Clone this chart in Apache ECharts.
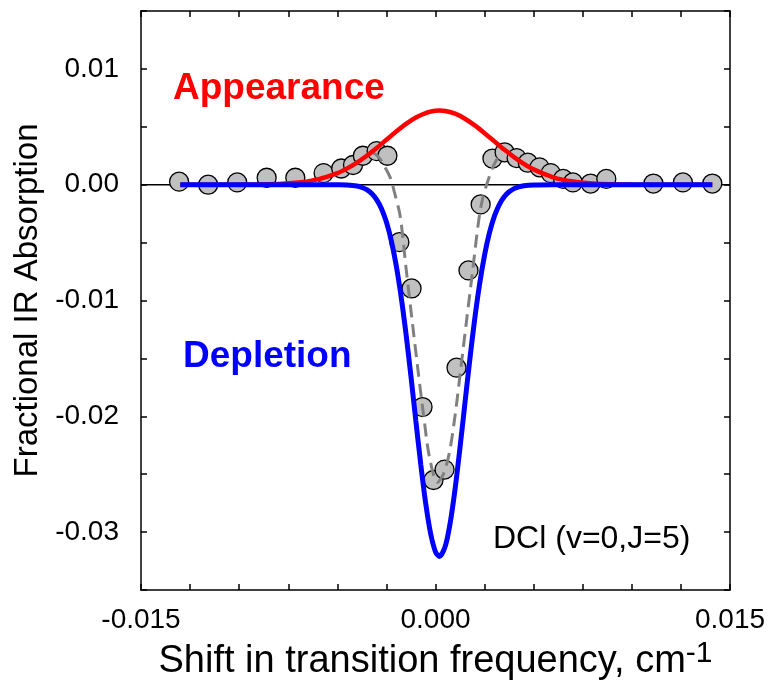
<!DOCTYPE html>
<html>
<head>
<meta charset="utf-8">
<script src="https://cdn.jsdelivr.net/npm/echarts@6/dist/echarts.min.js"></script>
<style>
  html, body { margin: 0; padding: 0; background: #fff; }
  #main { width: 771px; height: 688px; }
</style>
</head>
<body>
<div id="main"></div>
<script>
// measured points (grey circles)
const pointX = [-0.01306, -0.01158, -0.0101, -0.0086, -0.00714, -0.0057, -0.0048, -0.0042, -0.0037, -0.0030, -0.00245,
  -0.00184, -0.00122, -0.00066, -0.0001, 0.00046, 0.00107, 0.00168, 0.0023,
  0.0029, 0.00352, 0.00413, 0.0047, 0.0053, 0.00587, 0.0065, 0.0070, 0.0079, 0.0087, 0.0111, 0.0126, 0.0141];
const pointY = [0.00026, 0.0000, 0.0002, 0.0006, 0.0006, 0.0010, 0.0014, 0.0017, 0.0025, 0.0029, 0.0025,
  -0.00496, -0.00896, -0.0192, -0.0255, -0.0246, -0.0158, -0.0074, -0.0017,
  0.00226, 0.0028, 0.0023, 0.0019, 0.0015, 0.0010, 0.0005, 0.0002, 0.0001, 0.0005, 0.0001, 0.0002, 0.0001];

// dashed grey fit through the points
const dashX = [-0.0032, -0.0029, -0.0026, -0.0023, -0.0021, -0.0018, -0.0015, -0.0012, -0.0009, -0.0006, -0.0003, 0.0001,
  0.0004, 0.0007, 0.0010, 0.0013, 0.0016, 0.0019, 0.0022, 0.0024, 0.0027, 0.0030, 0.0033];
const dashY = [0.0028, 0.0024, 0.0016, 0.0006, -0.0006, -0.0027, -0.0072, -0.0116, -0.0159, -0.0200, -0.0236, -0.0257,
  -0.0250, -0.0232, -0.0199, -0.0157, -0.0115, -0.0073, -0.0031, -0.0012, 0.0005, 0.0018, 0.0027];

// red "Appearance" curve
const redX = [-0.013, -0.010, -0.008, -0.007, -0.006, -0.005, -0.0045, -0.004, -0.0035, -0.003, -0.0025, -0.002, -0.0015,
  -0.001, -0.0005, 0, 0.0002, 0.0005, 0.001, 0.0015, 0.002, 0.0025, 0.003, 0.0035, 0.004, 0.0045, 0.005, 0.006, 0.007,
  0.008, 0.009, 0.010, 0.0141];
const redY = [0, 0.000005, 0.000064, 0.000183, 0.000458, 0.0010, 0.00141, 0.00191, 0.0025, 0.00317, 0.00388, 0.00459, 0.00525,
  0.0058, 0.00619, 0.00638, 0.0064, 0.00636, 0.00613, 0.0057, 0.00512, 0.00445, 0.00374, 0.00303, 0.00238, 0.0018, 0.00132, 0.00064, 0.00027,
  0.0001, 0.00003, 0.00001, 0];

// blue "Depletion" curve
const blueX = [-0.013, -0.006, -0.005, -0.0045, -0.004, -0.00375, -0.0035, -0.00325, -0.003, -0.00275, -0.0025, -0.00225,
  -0.002, -0.00175, -0.0015, -0.00125, -0.001, -0.00075, -0.0005, -0.00025, 0, 0.0002, 0.0005, 0.00075, 0.001, 0.00125,
  0.0015, 0.00175, 0.002, 0.00225, 0.0025, 0.00275, 0.003, 0.00325, 0.0035, 0.00375, 0.004, 0.00425, 0.0045, 0.005, 0.006, 0.0141];
const blueY = [0, 0, -0.00001, -0.00003, -0.00012, -0.00024, -0.00043, -0.00076, -0.00128, -0.00207, -0.00323, -0.00485,
  -0.00699, -0.00969, -0.01292, -0.01656, -0.0204, -0.02416, -0.02751, -0.03011, -0.0317, -0.0321, -0.0312, -0.02918, -0.02624, -0.02268,
  -0.01885, -0.01506, -0.01157, -0.00855, -0.00607, -0.00414, -0.00272, -0.00171, -0.00104, -0.00061, -0.00034, -0.00018, -0.00009, -0.00002, 0, 0];

const xLabelsShown = [-0.015, 0, 0.015];
const yLabelsShown = [0.01, 0, -0.01, -0.02, -0.03];

const zip = (xs, ys) => xs.map((x, i) => [x, ys[i]]);
const near = (list, v) => list.some(t => Math.abs(t - v) < 1e-9);

const font = "'Liberation Sans', Arial, sans-serif";
const frame = { show: true, onZero: false, lineStyle: { color: '#000', width: 1.5 } };
const tick = { show: true, inside: true, length: 6, lineStyle: { color: '#000', width: 1.5 } };

const chart = echarts.init(document.getElementById('main'));
const option = {
  animation: false,
  backgroundColor: '#fff',
  grid: { left: 141, top: 11, right: 41, bottom: 98 },
  xAxis: [
    {
      type: 'value', min: -0.015, max: 0.015, interval: 0.0025, position: 'bottom',
      axisLine: frame, axisTick: tick, splitLine: { show: false },
      axisLabel: {
        margin: 16, color: '#000', fontSize: 28, fontFamily: font, showMinLabel: true, showMaxLabel: true,
        formatter: v => near(xLabelsShown, v) ? v.toFixed(3) : ''
      },
      name: '{t|Shift in transition frequency, cm}{s|-1}', nameLocation: 'middle', nameGap: 44,
      nameTextStyle: {
        rich: {
          t: { fontSize: 38, fontFamily: font, color: '#000' },
          s: { fontSize: 30, fontFamily: font, color: '#000', verticalAlign: 'top', padding: [0, 0, 16, 0] }
        }
      }
    },
    {
      type: 'value', min: -0.015, max: 0.015, interval: 0.0025, position: 'top',
      axisLine: frame, axisTick: tick, axisLabel: { show: false }, splitLine: { show: false }
    }
  ],
  yAxis: [
    {
      type: 'value', min: -0.035, max: 0.015, interval: 0.005, position: 'left',
      axisLine: frame, axisTick: tick, splitLine: { show: false },
      axisLabel: {
        margin: 22, color: '#000', fontSize: 28, fontFamily: font,
        formatter: v => near(yLabelsShown, v) ? v.toFixed(2) : ''
      },
      name: 'Fractional IR Absorption', nameLocation: 'middle', nameRotate: 90, nameGap: 96,
      nameTextStyle: { fontSize: 33, fontFamily: font, color: '#000' }
    },
    {
      type: 'value', min: -0.035, max: 0.015, interval: 0.005, position: 'right',
      axisLine: frame, axisTick: tick, axisLabel: { show: false }, splitLine: { show: false }
    }
  ],
  series: [
    {
      name: 'zero', type: 'line', symbol: 'none', z: 1,
      data: [[-0.015, 0], [0.015, 0]],
      lineStyle: { color: '#000', width: 1.5 }
    },
    {
      name: 'data', type: 'scatter', z: 2, symbolSize: 19,
      data: zip(pointX, pointY),
      itemStyle: { color: '#c0c0c0', borderColor: '#000', borderWidth: 1.3, opacity: 1 }
    },
    {
      name: 'fit', type: 'line', symbol: 'none', smooth: 0.3, z: 3,
      data: zip(dashX, dashY),
      lineStyle: { color: '#808080', width: 3, type: [13, 7] }
    },
    {
      name: 'Appearance', type: 'line', symbol: 'none', smooth: 0.3, z: 4,
      data: zip(redX, redY),
      lineStyle: { color: '#ff0000', width: 4.5 }
    },
    {
      name: 'Depletion', type: 'line', symbol: 'none', smooth: 0.3, z: 5,
      data: zip(blueX, blueY),
      lineStyle: { color: '#0000ff', width: 5 }
    }
  ],
  graphic: [
    { type: 'text', left: 173, top: 70, z: 10,
      style: { text: 'Appearance', fill: '#ff0000', font: 'bold 37px ' + font } },
    { type: 'text', left: 183, top: 338, z: 10,
      style: { text: 'Depletion', fill: '#0000ff', font: 'bold 37px ' + font } },
    { type: 'text', left: 493, top: 523, z: 10,
      style: { text: 'DCl (v=0,J=5)', fill: '#000', font: '32px ' + font } }
  ]
};
chart.setOption(option);
</script>
</body>
</html>
